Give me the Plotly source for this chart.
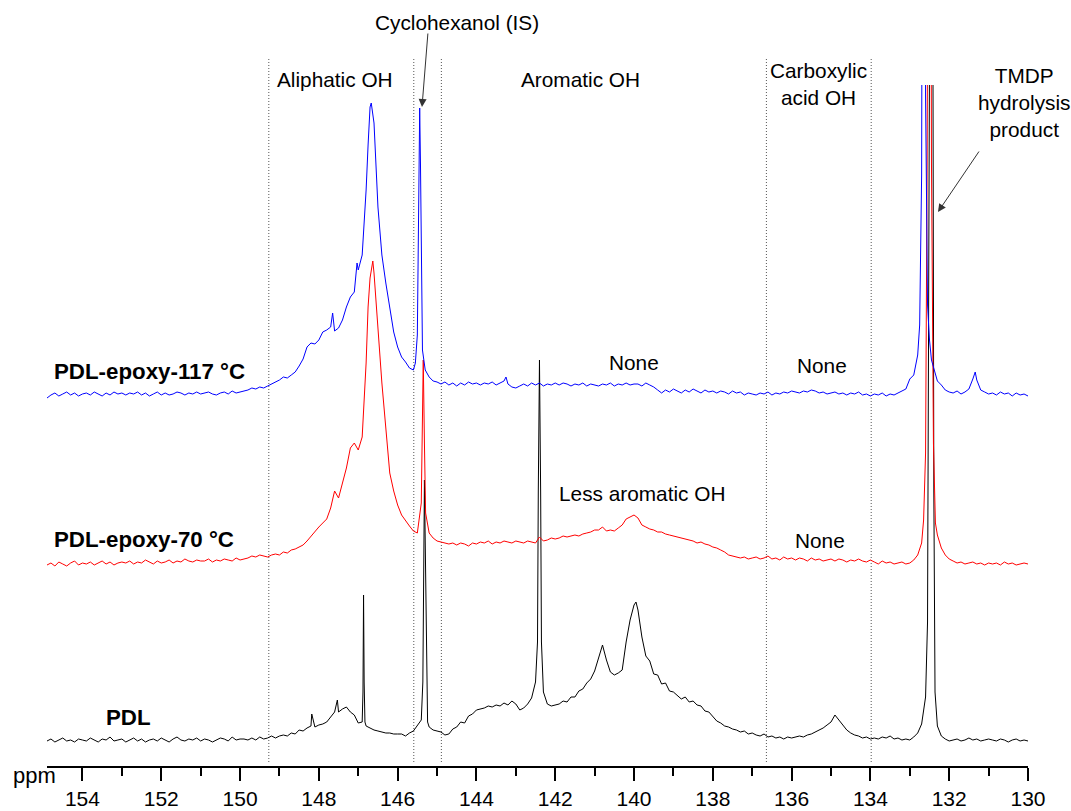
import plotly.graph_objects as go

# ---------------- data ----------------
# chemical-shift sampling grid, ppm (one row = 1 ppm)
PPM_GRID = [
    154.9, 154.8, 154.7, 154.6, 154.5, 154.4, 154.3, 154.2, 154.1, 154.0,
    153.9, 153.8, 153.7, 153.6, 153.5, 153.4, 153.3, 153.2, 153.1, 153.0,
    152.9, 152.8, 152.7, 152.6, 152.5, 152.4, 152.3, 152.2, 152.1, 152.0,
    151.9, 151.8, 151.7, 151.6, 151.5, 151.4, 151.3, 151.2, 151.1, 151.0,
    150.9, 150.8, 150.7, 150.6, 150.5, 150.4, 150.3, 150.2, 150.1, 150.0,
    149.9, 149.8, 149.7, 149.6, 149.5, 149.4, 149.3, 149.2, 149.1, 149.0,
    148.9, 148.8, 148.7, 148.6, 148.5, 148.4, 148.3, 148.2, 148.1, 148.0,
    147.9, 147.8, 147.7, 147.6, 147.5, 147.4, 147.3, 147.2, 147.1, 147.0,
    146.9, 146.8, 146.7, 146.6, 146.5, 146.4, 146.3, 146.2, 146.1, 146.0,
    145.9, 145.8, 145.7, 145.6, 145.5, 145.4, 145.3, 145.2, 145.1, 145.0,
    144.9, 144.8, 144.7, 144.6, 144.5, 144.4, 144.3, 144.2, 144.1, 144.0,
    143.9, 143.8, 143.7, 143.6, 143.5, 143.4, 143.3, 143.2, 143.1, 143.0,
    142.9, 142.8, 142.7, 142.6, 142.5, 142.4, 142.3, 142.2, 142.1, 142.0,
    141.9, 141.8, 141.7, 141.6, 141.5, 141.4, 141.3, 141.2, 141.1, 141.0,
    140.9, 140.8, 140.7, 140.6, 140.5, 140.4, 140.3, 140.2, 140.1, 140.0,
    139.9, 139.8, 139.7, 139.6, 139.5, 139.4, 139.3, 139.2, 139.1, 139.0,
    138.9, 138.8, 138.7, 138.6, 138.5, 138.4, 138.3, 138.2, 138.1, 138.0,
    137.9, 137.8, 137.7, 137.6, 137.5, 137.4, 137.3, 137.2, 137.1, 137.0,
    136.9, 136.8, 136.7, 136.6, 136.5, 136.4, 136.3, 136.2, 136.1, 136.0,
    135.9, 135.8, 135.7, 135.6, 135.5, 135.4, 135.3, 135.2, 135.1, 135.0,
    134.9, 134.8, 134.7, 134.6, 134.5, 134.4, 134.3, 134.2, 134.1, 134.0,
    133.9, 133.8, 133.7, 133.6, 133.5, 133.4, 133.3, 133.2, 133.1, 133.0,
    132.9, 132.8, 132.7, 132.6, 132.5, 132.4, 132.3, 132.2, 132.1, 132.0,
    131.9, 131.8, 131.7, 131.6, 131.5, 131.4, 131.3, 131.2, 131.1, 131.0,
    130.9, 130.8, 130.7, 130.6, 130.5, 130.4, 130.3, 130.2, 130.1, 130.0,
]

# PDL (black) intensities on the grid
PDL_GRID = [
    1, 3, 0, 2, 4, 1, 2, 0, 3, 2,
    1, 4, 2, 0, 3, 2, 5, 1, 2, 3,
    0, 2, 4, 1, 3, 0, 2, 3, 1, 4,
    2, 0, 3, 5, 2, 1, 3, 2, 4, 1,
    3, 2, 0, 2, 4, 3, 1, 5, 2, 3,
    3, 2, 4, 2, 5, 3, 4, 6, 4, 6,
    7, 6, 9, 8, 12, 11, 14, 16, 15, 17,
    18, 20, 25, 30, 30, 33, 35, 30, 27, 19,
    20, 16, 14, 12, 11, 10, 9, 9, 8, 8,
    8, 6, 9, 11, 16, 22, 200, 15, 12, 11,
    10, 7, 8, 13, 15, 20, 19, 26, 28, 32,
    33, 34, 36, 35, 37, 36, 39, 37, 41, 38,
    32, 34, 38, 44, 60, 382, 50, 38, 36, 37,
    38, 41, 40, 45, 45, 51, 53, 59, 63, 71,
    85, 97, 82, 70, 67, 69, 72, 100, 122, 137,
    132, 105, 86, 81, 68, 67, 58, 59, 51, 50,
    46, 43, 45, 40, 41, 37, 36, 31, 30, 25,
    21, 19, 16, 15, 13, 12, 10, 11, 8, 9,
    7, 6, 8, 5, 6, 4, 5, 3, 5, 4,
    5, 6, 5, 7, 8, 10, 12, 14, 17, 20,
    27, 22, 16, 12, 9, 7, 6, 4, 5, 3,
    4, 3, 5, 4, 6, 3, 4, 2, 3, 2,
    5, 9, 18, 45, 690, 440, 16, 6, 3, 1,
    2, 3, 1, 2, 4, 2, 3, 1, 2, 3,
    2, 1, 3, 2, 0, 2, 3, 1, 2, 1,
]
PDL_PEAK_PPM = [148.18, 147.53, 146.88, 146.865, 146.85, 146.83,
                145.36, 145.34, 145.32, 145.28, 145.26, 145.24,
                142.45, 142.43, 142.37, 142.35, 139.95,
                132.55, 132.52, 132.45, 132.39, 132.36]
PDL_PEAK_VAL = [28, 42, 50, 147, 60, 20,
                60, 200, 262, 115, 40, 20,
                100, 250, 250, 100, 140,
                120, 400, 1400, 250, 50]

# PDL-epoxy-70 °C (red)
E70_GRID = [
    -2, 0, -3, 1, -1, -3, 0, 2, -2, 0,
    -1, 1, -2, 0, 2, -1, 1, -2, 0, 1,
    0, 2, -1, 1, 0, 3, 1, -1, 2, 0,
    1, 3, 0, 2, 1, 4, 2, 1, 3, 2,
    2, 4, 1, 3, 2, 4, 3, 2, 5, 3,
    4, 5, 7, 6, 8, 7, 6, 8, 9, 8,
    11, 10, 13, 14, 16, 18, 22, 27, 31, 36,
    40, 44, 55, 72, 65, 80, 95, 115, 120, 113,
    126, 200, 285, 290, 235, 180, 135, 90, 72, 58,
    48, 42, 37, 32, 30, 60, 75, 30, 25, 22,
    21, 20, 19, 20, 18, 20, 19, 17, 20, 19,
    21, 20, 22, 19, 21, 20, 22, 21, 20, 22,
    21, 20, 22, 21, 20, 26, 22, 23, 25, 24,
    25, 27, 26, 27, 28, 27, 29, 30, 31, 33,
    33, 36, 32, 33, 32, 35, 38, 44, 46, 48,
    45, 38, 36, 34, 33, 31, 31, 29, 28, 27,
    26, 25, 24, 23, 22, 20, 21, 19, 18, 16,
    15, 13, 11, 8, 7, 6, 5, 6, 4, 5,
    6, 4, 5, 7, 4, 5, 3, 6, 4, 5,
    3, 5, 4, 2, 5, 3, 4, 2, 3, 4,
    2, 4, 3, 1, 3, 2, 4, 2, 1, 3,
    1, -1, 2, 0, 1, -1, 0, 1, -1, 0,
    3, 8, 20, 110, 1200, 120, 28, 15, 8, 4,
    2, 0, 1, -1, 0, 1, -1, 0, -2, 0,
    -1, 0, -2, 1, -1, 0, -2, -1, 0, -1,
]
E70_PEAK_PPM = [146.75, 146.66, 146.63, 146.55,
                145.38, 145.35, 145.32, 145.29,
                132.65, 132.56, 132.45, 132.35]
E70_PEAK_VAL = [256, 298, 302, 262,
                150, 203, 120, 50,
                43, 400, 400, 40]

# PDL-epoxy-117 °C (blue)
E117_GRID = [
    -3, 0, 2, -1, 1, 3, 0, 2, -1, 1,
    2, 0, 3, 1, -1, 2, 0, 3, 1, 2,
    0, 2, 1, 3, 0, 2, -1, 1, 3, 0,
    2, 0, 1, 3, 2, 0, 2, 1, 3, 1,
    2, 3, 1, 0, 2, 3, 1, 4, 2, 3,
    4, 5, 7, 6, 8, 7, 9, 11, 13, 15,
    18, 17, 20, 23, 29, 36, 48, 52, 51, 55,
    63, 65, 68, 64, 67, 75, 88, 98, 103, 125,
    140, 205, 288, 272, 188, 140, 112, 88, 63, 48,
    38, 33, 27, 25, 60, 150, 25, 18, 14, 13,
    11, 13, 10, 12, 9, 12, 10, 13, 11, 12,
    10, 12, 11, 13, 10, 12, 14, 11, 8, 7,
    9, 11, 9, 12, 10, 12, 9, 11, 10, 12,
    10, 12, 11, 9, 11, 10, 12, 9, 11, 10,
    9, 11, 10, 12, 9, 11, 10, 12, 10, 11,
    11, 9, 12, 10, 8, 5, 2, 5, 3, 6,
    4, 2, 5, 3, 6, 4, 2, 5, 3, 4,
    2, 4, 3, 1, 4, 2, 3, 0, 2, 1,
    0, 2, 1, 3, 0, 2, 1, 3, 2, 4,
    3, 2, 4, 3, 5, 4, 2, 3, 1, 2,
    3, 1, 2, 0, 2, 1, 3, 0, 1, -1,
    1, 0, 2, -1, 1, 0, 2, 4, 6, 16,
    20, 40, 220, 300, 55, 28, 14, 10, 5, 3,
    2, 4, 1, 3, 6, 16, 15, 5, 3, 1,
    2, 0, 3, 1, 2, -1, 2, 0, 1, -1,
]
E117_PEAK_PPM = [147.65, 147.03, 146.85, 146.75, 146.67,
                 145.55, 145.47, 145.44, 145.42, 145.37, 143.25,
                 132.75, 132.65, 132.55, 132.45, 131.34]
E117_PEAK_VAL = [82, 132, 170, 250, 292,
                 32, 200, 287, 230, 45, 18,
                 70, 1200, 90, 35, 23]

SAMPLE_NAMES = ["PDL", "PDL-epoxy-70 °C", "PDL-epoxy-117 °C"]
REGION_BOUNDS_PPM = [149.27, 145.59, 144.89, 136.64, 133.98]
X_TICKS = [154, 152, 150, 148, 146, 144, 142, 140, 138, 136, 134, 132, 130]

# ---------------- layout constants ----------------
W, H = 1071, 811
L, R, T, B = 47, 43, 85, 45
PW, PH = W - L - R, H - T - B
OFFSETS = [24, 203, 371]          # vertical stacking of the spectra
COLORS = ["#000000", "#ff0000", "#0000ff"]
FONT = "Liberation Sans, Arial, sans-serif"
TXT = 20.8
BOLD = 22.3


def px(x, y):
    """pixel position -> paper coords"""
    return (x - L) / PW, (H - B - y) / PH


def merge(grid_vals, peak_ppm, peak_val):
    pts = list(zip(PPM_GRID, grid_vals)) + list(zip(peak_ppm, peak_val))
    pts.sort(key=lambda p: -p[0])
    return [p[0] for p in pts], [p[1] for p in pts]


spectra = [
    merge(PDL_GRID, PDL_PEAK_PPM, PDL_PEAK_VAL),
    merge(E70_GRID, E70_PEAK_PPM, E70_PEAK_VAL),
    merge(E117_GRID, E117_PEAK_PPM, E117_PEAK_VAL),
]

fig = go.Figure()
for (xs, ys), off, col, name in zip(spectra, OFFSETS, COLORS, SAMPLE_NAMES):
    fig.add_trace(go.Scatter(x=xs, y=[v + off for v in ys], mode="lines",
                             line=dict(color=col, width=1), name=name,
                             hoverinfo="skip"))

shapes = []
for b in REGION_BOUNDS_PPM:
    shapes.append(dict(type="line", xref="x", yref="paper", x0=b, x1=b,
                       y0=px(0, 762)[1], y1=px(0, 58)[1],
                       line=dict(color="#555555", width=1, dash="1px,2px"),
                       layer="below"))

ann = []


def text(t, x, y, size=TXT, bold=False, xanchor="center"):
    xp, yp = px(x, y)
    ann.append(dict(text=("<b>%s</b>" % t) if bold else t, x=xp, y=yp,
                    xref="paper", yref="paper", showarrow=False,
                    xanchor=xanchor, yanchor="middle",
                    font=dict(family=FONT, size=size, color="black")))


def arrow(tip, tail):
    xp, yp = px(*tip)
    ann.append(dict(text="", x=xp, y=yp, xref="paper", yref="paper",
                    showarrow=True, ax=tail[0] - tip[0], ay=tail[1] - tip[1],
                    arrowhead=2, arrowsize=1.6, arrowwidth=1,
                    arrowcolor="#333333", standoff=0))


text("Cyclohexanol (IS)", 457, 23)
text("Aliphatic OH", 335, 80)
text("Aromatic OH", 580, 80)
text("Carboxylic<br>acid OH", 818, 84)
text("TMDP<br>hydrolysis<br>product", 1024, 103)
text("None", 634, 363)
text("None", 822, 365)
text("Less aromatic OH", 642, 493)
text("None", 820, 540)
text(SAMPLE_NAMES[2], 52, 372, size=BOLD, bold=True, xanchor="left")
text(SAMPLE_NAMES[1], 52, 539, size=BOLD, bold=True, xanchor="left")
text(SAMPLE_NAMES[0], 128, 717, size=BOLD, bold=True)
text("ppm", 34, 775, size=22)
arrow((422, 107), (428, 32))
arrow((938, 212), (980, 150))

fig.update_layout(
    width=W, height=H,
    margin=dict(l=L, r=R, t=T, b=B, pad=0, autoexpand=False),
    plot_bgcolor="white", paper_bgcolor="white",
    showlegend=False,
    shapes=shapes, annotations=ann,
    xaxis=dict(range=[154.9, 130.0], tickmode="array", tickvals=X_TICKS,
               ticktext=[str(v) for v in X_TICKS], automargin=False,
               ticks="outside", ticklen=13, tickwidth=2, tickcolor="black",
               showline=True, linewidth=2, linecolor="black",
               showgrid=False, zeroline=False,
               tickfont=dict(family=FONT, size=21, color="black"),
               minor=dict(dtick=1, tick0=130, ticks="outside", ticklen=8,
                          tickwidth=2, tickcolor="black", showgrid=False)),
    yaxis=dict(visible=False, range=[0, PH], fixedrange=True),
)

fig.write_html("out.html")
